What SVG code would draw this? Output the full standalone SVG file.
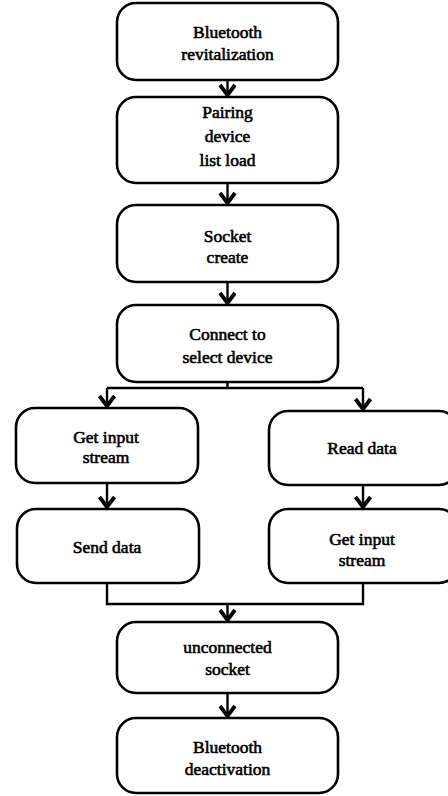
<svg xmlns="http://www.w3.org/2000/svg" width="448" height="796" viewBox="0 0 448 796">
  <defs>
    <marker id="chev" markerUnits="userSpaceOnUse" markerWidth="24" markerHeight="24" viewBox="-12 -12 24 24" refX="0" refY="0" orient="auto" overflow="visible">
      <path d="M-11,-7.5 L-1,0 L-11,7.5" fill="none" stroke="#000" stroke-width="3.8" stroke-linejoin="miter"/>
    </marker>
    <style>
      .box { fill: #fff; stroke: #000; stroke-width: 2.6; }
      .lbl { font-size: 17.5px; text-anchor: middle; fill: #000; stroke: #000; stroke-width: 0.6; }
      .wire { fill: none; stroke: #000; stroke-width: 2.4; }
      .arr { marker-end: url(#chev); }
    </style>
  </defs>
  <rect width="448" height="796" fill="#fff"/>

  <g id="connectors">
    <path class="wire arr" d="M227.5,80 V96"/>
    <path class="wire arr" d="M227.5,183 V204"/>
    <path class="wire arr" d="M227.5,282 V304"/>
    <path class="wire" d="M227.5,382 V388 M107,388 H363"/>
    <path class="wire arr" d="M107,388 V407"/>
    <path class="wire arr" d="M363,388 V410"/>
    <path class="wire arr" d="M107,483 V508"/>
    <path class="wire arr" d="M363,485 V508"/>
    <path class="wire" d="M107,583 V604 H363 V583"/>
    <path class="wire arr" d="M227.5,604 V621"/>
    <path class="wire arr" d="M227.5,693 V717"/>
  </g>

  <g id="nodes" font-family="Liberation Serif, Times New Roman, serif">
    <g id="bt-revitalization">
      <rect class="box" x="117" y="3" width="221" height="77" rx="19"/>
      <text class="lbl" x="227.5" y="38">Bluetooth</text>
      <text class="lbl" x="227.5" y="60">revitalization</text>
    </g>

    <g id="pairing-list">
      <rect class="box" x="117" y="97" width="221" height="86" rx="19"/>
      <text class="lbl" x="227.5" y="118">Pairing</text>
      <text class="lbl" x="227.5" y="142">device</text>
      <text class="lbl" x="227.5" y="166">list load</text>
    </g>

    <g id="socket-create">
      <rect class="box" x="117" y="205" width="221" height="77" rx="19"/>
      <text class="lbl" x="227.5" y="242">Socket</text>
      <text class="lbl" x="227.5" y="263">create</text>
    </g>

    <g id="connect-device">
      <rect class="box" x="117" y="305" width="221" height="77" rx="19"/>
      <text class="lbl" x="227.5" y="340">Connect to</text>
      <text class="lbl" x="227.5" y="363">select device</text>
    </g>

    <g id="left-input-stream">
      <rect class="box" x="16" y="408" width="182" height="75" rx="19"/>
      <text class="lbl" x="106" y="443">Get input</text>
      <text class="lbl" x="106" y="463">stream</text>
    </g>

    <g id="read-data">
      <rect class="box" x="269" y="411" width="189" height="74" rx="19"/>
      <text class="lbl" x="362" y="454">Read data</text>
    </g>

    <g id="send-data">
      <rect class="box" x="17" y="509" width="182" height="74" rx="19"/>
      <text class="lbl" x="107" y="553">Send data</text>
    </g>

    <g id="right-input-stream">
      <rect class="box" x="269" y="509" width="189" height="74" rx="19"/>
      <text class="lbl" x="362" y="545">Get input</text>
      <text class="lbl" x="362" y="566">stream</text>
    </g>

    <g id="unconnected-socket">
      <rect class="box" x="117" y="622" width="221" height="71" rx="19"/>
      <text class="lbl" x="227.5" y="653">unconnected</text>
      <text class="lbl" x="227.5" y="675">socket</text>
    </g>

    <g id="bt-deactivation">
      <rect class="box" x="117" y="718" width="221" height="75" rx="19"/>
      <text class="lbl" x="227.5" y="753">Bluetooth</text>
      <text class="lbl" x="227.5" y="775">deactivation</text>
    </g>
  </g>
</svg>
